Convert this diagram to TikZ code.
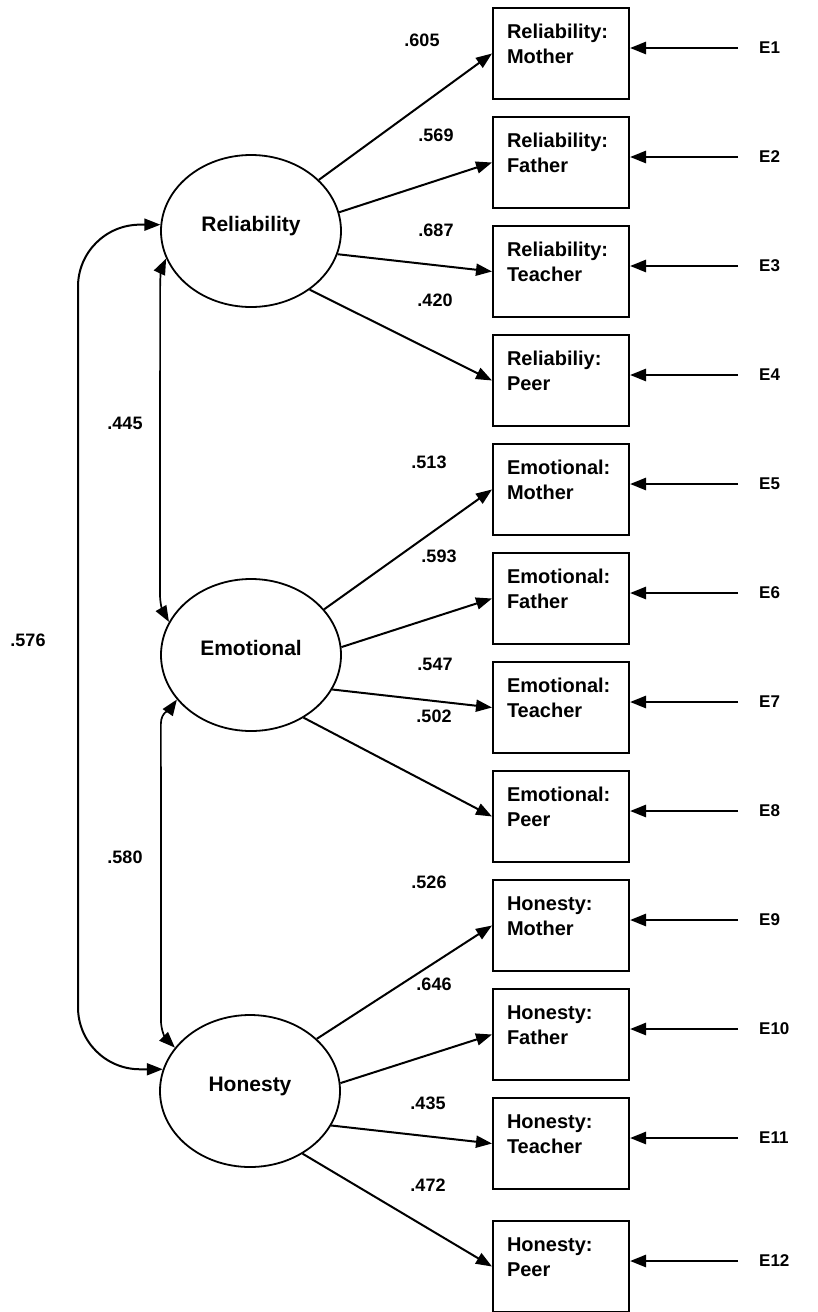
\documentclass[tikz,border=0pt]{standalone}
\usepackage{fontspec}
\setmainfont{Liberation Sans}
\usetikzlibrary{
    arrows.meta,
    calc,
    shapes.geometric
}
\tikzset{
    every picture/.style = {
        > = {Triangle[length = 16pt, width = 12pt]}
    },
    latent/.style = {
        draw,
        ellipse,
        line width = 1.8pt,
        minimum width = 180pt,
        minimum height = 152pt,
        inner sep = 0pt,
        text height = 12pt,
        text depth = 12pt,
        font = \fontsize{21}{25}\selectfont\bfseries
    },
    obs/.style = {
        draw,
        rectangle,
        line width = 2pt,
        anchor = north west,
        align = left,
        text width = 108pt,
        inner xsep = 14pt,
        inner ysep = 0pt,
        text height = 30.3pt,
        text depth = 60.7pt,
        font = \fontsize{20}{25}\selectfont\bfseries
    },
    load/.style = {->, line width = 2pt},
    res/.style = {->, line width = 2.6pt, shorten < = 21pt},
    cov/.style = {<->, line width = 1.7pt},
    coef/.style = {inner sep = 0pt, font = \fontsize{18}{22}\selectfont\bfseries},
    err/.style = {anchor = west, inner sep = 0pt, font = \fontsize{17}{20}\selectfont\bfseries}
}

\begin{document}
\begin{tikzpicture}[x = 1pt, y = 1pt]
    % \draw[step = 50, lightgray, very thin] (0, 0) grid (817, -1312);
    \useasboundingbox (0, 0) rectangle (817, -1312);

    \node[latent] (rel) at (251, -231) {Reliability};
    \node[latent] (emo) at (251, -655) {Emotional};
    \node[latent] (hon) at (250, -1091) {Honesty};

    \node[obs] (rm) at (492, -7) {Reliability:\\Mother};
    \node[obs] (rf) at (492, -116) {Reliability:\\Father};
    \node[obs] (rt) at (492, -225) {Reliability:\\Teacher};
    \node[obs] (rp) at (492, -334) {Reliabiliy:\\Peer};
    \node[obs] (em) at (492, -443) {Emotional:\\Mother};
    \node[obs] (ef) at (492, -552) {Emotional:\\Father};
    \node[obs] (et) at (492, -661) {Emotional:\\Teacher};
    \node[obs] (ep) at (492, -770) {Emotional:\\Peer};
    \node[obs] (hm) at (492, -879) {Honesty:\\Mother};
    \node[obs] (hf) at (492, -988) {Honesty:\\Father};
    \node[obs] (ht) at (492, -1097) {Honesty:\\Teacher};
    \node[obs] (hp) at (492, -1220) {Honesty:\\Peer};

    \node[err] (e1) at (759, -48) {E1};
    \node[err] (e2) at (759, -157) {E2};
    \node[err] (e3) at (759, -266) {E3};
    \node[err] (e4) at (759, -375) {E4};
    \node[err] (e5) at (759, -484) {E5};
    \node[err] (e6) at (759, -593) {E6};
    \node[err] (e7) at (759, -702) {E7};
    \node[err] (e8) at (759, -811) {E8};
    \node[err] (e9) at (759, -920) {E9};
    \node[err] (e10) at (759, -1029) {E10};
    \node[err] (e11) at (759, -1138) {E11};
    \node[err] (e12) at (759, -1261) {E12};

    % loadings
    \draw[load] (rel.37) -- (rm.west);
    \draw[load] (rel.12) -- (rf.west);
    \draw[load] (rel.-15) -- (rt.west);
    \draw[load] (rel.-45) -- (rp.west);
    \draw[load] (emo.32) -- (em.west);
    \draw[load] (emo.5) -- (ef.west);
    \draw[load] (emo.-23) -- (et.west);
    \draw[load] (emo.-50) -- (ep.west);
    \draw[load] (hon.38) -- (hm.west);
    \draw[load] (hon.5) -- (hf.west);
    \draw[load] (hon.-23) -- (ht.west);
    \draw[load] (hon.-50) -- (hp.west);

    \node[coef] (l1) at (422, -40) {.605};
    \node[coef] (l2) at (436, -135) {.569};
    \node[coef] (l3) at (436, -230) {.687};
    \node[coef] (l4) at (435, -300) {.420};
    \node[coef] (l5) at (429, -462) {.513};
    \node[coef] (l6) at (439, -556) {.593};
    \node[coef] (l7) at (435, -664) {.547};
    \node[coef] (l8) at (434, -716) {.502};
    \node[coef] (l9) at (429, -882) {.526};
    \node[coef] (l10) at (434, -984) {.646};
    \node[coef] (l11) at (428, -1103) {.435};
    \node[coef] (l12) at (428, -1185) {.472};

    % residuals
    \draw[res] (e1) -- (rm.east |- e1);
    \draw[res] (e2) -- (rf.east |- e2);
    \draw[res] (e3) -- (rt.east |- e3);
    \draw[res] (e4) -- (rp.east |- e4);
    \draw[res] (e5) -- (em.east |- e5);
    \draw[res] (e6) -- (ef.east |- e6);
    \draw[res] (e7) -- (et.east |- e7);
    \draw[res] (e8) -- (ep.east |- e8);
    \draw[res] (e9) -- (hm.east |- e9);
    \draw[res] (e10) -- (hf.east |- e10);
    \draw[res] (e11) -- (ht.east |- e11);
    \draw[res] (e12) -- (hp.east |- e12);

    % covariances
    \coordinate (lcol) at (78, -650);
    \draw[cov, line width = 2pt, rounded corners = 62pt] (rel.176) -| (lcol) |- (hon.166);
    \draw[cov] (rel.198) to[out = 245, in = 90] ++(-6, -28) -- ($(emo.158) + (-9, 28)$) to[out = -90, in = 120] (emo.158);
    \draw[cov] (emo.211) to[out = 235, in = 90] ++(-16, -24) -- ($(hon.150) + (-14, 28)$) to[out = -90, in = 135] (hon.150);

    \node[coef] (c1) at (125, -423) {.445};
    \node[coef] (c2) at (125, -857) {.580};
    \node[coef] (c3) at (28, -640) {.576};
\end{tikzpicture}
\end{document}
